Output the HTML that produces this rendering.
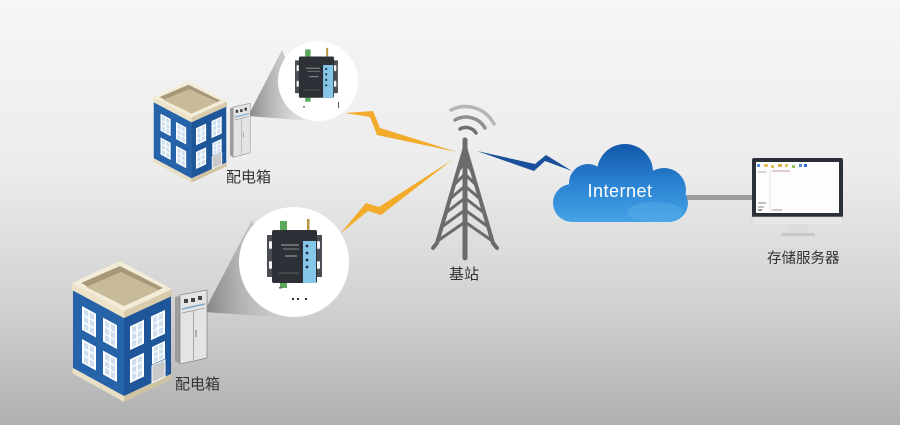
<!DOCTYPE html>
<html><head><meta charset="utf-8"><style>
html,body{margin:0;padding:0;width:900px;height:425px;overflow:hidden;background:#e8e8e8}
svg{display:block}
text{font-family:"Liberation Sans","Noto Sans CJK SC",sans-serif}
</style></head><body>
<svg width="900" height="425" viewBox="0 0 900 425" xmlns="http://www.w3.org/2000/svg">
<defs>
<linearGradient id="bg" x1="0" y1="0" x2="0" y2="1">
<stop offset="0" stop-color="#f6f6f6"/><stop offset="0.4" stop-color="#ececec"/>
<stop offset="0.7" stop-color="#d3d3d3"/><stop offset="1" stop-color="#b0b0b0"/>
</linearGradient>
<linearGradient id="cloud" gradientUnits="userSpaceOnUse" x1="0" y1="145" x2="0" y2="222">
<stop offset="0" stop-color="#1258aa"/><stop offset="0.5" stop-color="#2a82d2"/><stop offset="1" stop-color="#45a3e6"/>
</linearGradient>
<linearGradient id="cone" x1="0" y1="0" x2="1" y2="0">
<stop offset="0" stop-color="#7a7a7a" stop-opacity="0.9"/><stop offset="1" stop-color="#d0d0d0" stop-opacity="0.25"/>
</linearGradient>
<symbol id="win" viewBox="0 0 14 24" preserveAspectRatio="none">
<rect x="1" y="1" width="12" height="22" fill="#cddff0" stroke="#fff" stroke-width="2"/>
<line x1="7" y1="1" x2="7" y2="23" stroke="#fff" stroke-width="1.5"/>
<line x1="1" y1="8.5" x2="13" y2="8.5" stroke="#fff" stroke-width="1.5"/>
<line x1="1" y1="15.5" x2="13" y2="15.5" stroke="#fff" stroke-width="1.5"/>
</symbol>
<g id="bld">
<polygon points="1,7 52,35 52,113 1,85" fill="#2763a8"/>
<polygon points="52,35 99,13 99,91 52,113" fill="#1f5699"/>
<polygon points="1,85 52,113 52,119 0,90" fill="#e8dfc5"/>
<polygon points="52,113 99,91 100,96 52,119" fill="#cfc3a3"/>
<polygon points="0,0 52,28 52,35 0,7" fill="#ece3c9"/>
<polygon points="52,28 100,6 100,13 52,35" fill="#d8ccad"/>
<polygon points="0,0 52,28 100,6 48,-22" fill="#f3ecd8"/>
<polygon points="9,0 52,23 91,5 48,-17" fill="#a7987a"/>
<polygon points="14,4 52,23 87,7 49,-11" fill="#c8bb99"/>
<g transform="matrix(1,0.549,0,1,1,7)">
<use href="#win" x="9" y="11" width="14" height="24"/>
<use href="#win" x="30" y="11" width="14" height="24"/>
<use href="#win" x="9" y="44" width="14" height="24"/>
<use href="#win" x="30" y="44" width="14" height="24"/>
</g>
<g transform="matrix(1,-0.468,0,1,52,35)">
<use href="#win" x="6" y="11" width="14" height="24"/>
<use href="#win" x="27" y="11" width="14" height="24"/>
<use href="#win" x="6" y="44" width="14" height="24"/>
<use href="#win" x="28" y="42" width="13" height="18"/>
<rect x="28" y="61" width="13" height="17" fill="#c9c9c9" stroke="#fff" stroke-width="1"/>
</g>
</g>
<g id="cab">
<polygon points="175,297 180,295 180,364 175,361" fill="#9c9c9c"/>
<polygon points="175,297 202,291 207,290 180,295" fill="#cfcfcf"/>
<polygon points="180,295 207,290 207,358 180,364" fill="#e4e4e4" stroke="#8a8a8a" stroke-width="0.8"/>
<rect x="184" y="299" width="4" height="4" fill="#444"/>
<rect x="191" y="298" width="4" height="4" fill="#444"/>
<rect x="198" y="296" width="4" height="4" fill="#444"/>
<line x1="182" y1="309" x2="205" y2="304" stroke="#7fa9cf" stroke-width="1.6"/>
<line x1="182" y1="313" x2="205" y2="308" stroke="#999" stroke-width="0.8"/>
<line x1="193.5" y1="311" x2="193.5" y2="360" stroke="#999" stroke-width="0.8"/>
<line x1="196" y1="330" x2="196" y2="337" stroke="#777" stroke-width="1"/>
</g>
<g id="dev">
<rect x="0" y="12" width="7" height="42" fill="#4a4d53"/>
<rect x="48" y="12" width="7" height="42" fill="#4a4d53"/>
<rect x="2" y="18" width="3" height="8" rx="1.5" fill="#f4f4f4"/>
<rect x="2" y="38" width="3" height="8" rx="1.5" fill="#f4f4f4"/>
<rect x="50" y="18" width="3" height="8" rx="1.5" fill="#f4f4f4"/>
<rect x="50" y="38" width="3" height="8" rx="1.5" fill="#f4f4f4"/>
<rect x="13" y="-2" width="7" height="9" fill="#5aa85a"/>
<rect x="40" y="-4" width="2.5" height="11" fill="#b8953e"/>
<rect x="13" y="58" width="7" height="7" fill="#5aa85a"/>
<rect x="5" y="7" width="45" height="53" rx="2" fill="#2d3037"/>
<rect x="36" y="18" width="13" height="42" fill="#86c6e8"/>
<circle cx="40" cy="23" r="1.4" fill="#234"/><circle cx="40" cy="30" r="1.4" fill="#234"/>
<circle cx="40" cy="37" r="1.4" fill="#234"/><circle cx="40" cy="44" r="1.4" fill="#234"/>
<line x1="14" y1="22" x2="32" y2="22" stroke="#aaa" stroke-width="1"/>
<line x1="16" y1="26" x2="32" y2="26" stroke="#888" stroke-width="1"/>
<line x1="18" y1="33" x2="30" y2="33" stroke="#aaa" stroke-width="1"/>
<line x1="12" y1="50" x2="32" y2="50" stroke="#555" stroke-width="1.2"/>
</g>
</defs>

<rect width="900" height="425" fill="url(#bg)"/>

<!-- cones -->
<polygon points="248,116 282,50 312,121" fill="url(#cone)"/>
<polygon points="204,312 252,220 290,318" fill="url(#cone)"/>

<!-- circles -->
<circle cx="318" cy="81" r="40" fill="#fff"/>
<circle cx="294" cy="262" r="55" fill="#fff"/>
<use href="#dev" transform="translate(295,51) scale(0.78)"/>
<use href="#dev" transform="translate(267,223)"/>
<line x1="338.5" y1="102" x2="338.5" y2="108" stroke="#555" stroke-width="1"/>
<rect x="303" y="106" width="2" height="1.5" fill="#777"/>
<rect x="279" y="287" width="3" height="1.5" fill="#666"/>
<rect x="292" y="298" width="2" height="2" fill="#333"/><rect x="297" y="298" width="2" height="2" fill="#333"/><rect x="305" y="298" width="2" height="2" fill="#333"/>

<!-- buildings -->
<use href="#bld" transform="translate(153,97) scale(0.74,0.72)"/>
<use href="#bld" transform="translate(72,283)"/>
<use href="#cab" transform="matrix(0.63,0,0,0.73,119.75,-108.4)"/>
<use href="#cab"/>

<!-- lightning bolts -->
<polygon points="345,113 373,111 380,128 457,152 377,135 370,117" fill="#f3ab2b"/>
<polygon points="340,234 366,203 379,207 452,160 381,215 368,211" fill="#f3ab2b"/>
<polygon points="477,151 535,164 546,155 572,171 545,161 534,171" fill="#1a4f9c"/>

<!-- tower -->
<g stroke="#6b6b6b" fill="none" stroke-linecap="round">
<path d="M465,147 L437,243 L433,248" stroke-width="4"/>
<path d="M465,147 L493,243 L497,248" stroke-width="4"/>
<line x1="465" y1="140" x2="465" y2="258" stroke-width="5"/>
<path d="M459,170 L465,162 L471,170" stroke-width="3"/>
<path d="M455,184 L465,174 L475,184" stroke-width="3"/>
<path d="M451,198 L465,186 L479,198" stroke-width="3"/>
<path d="M447,212 L465,198 L483,212" stroke-width="3"/>
<path d="M443,226 L465,210 L487,226" stroke-width="3"/>
<path d="M439,240 L465,222 L491,240" stroke-width="3"/>
</g>
<g fill="none" stroke-linecap="round" stroke-width="3.5">
<path d="M460,129 A12,12 0 0 1 476,133" stroke="#6f6f6f"/>
<path d="M455,120 A22,22 0 0 1 485,128" stroke="#8f8f8f"/>
<path d="M451,110 A32,32 0 0 1 494,124" stroke="#b5b5b5"/>
</g>

<!-- cloud -->
<g fill="url(#cloud)">
<circle cx="588" cy="183" r="19"/>
<circle cx="625" cy="172" r="28"/>
<circle cx="664" cy="190" r="22"/>
<rect x="553" y="184" width="135" height="38" rx="19"/>
</g>
<ellipse cx="655" cy="212" rx="28" ry="10" fill="#5ab0ea" opacity="0.45"/>
<text x="620" y="197" font-size="18" fill="#fff" text-anchor="middle" letter-spacing="0.5">Internet</text>

<!-- connection -->
<rect x="687" y="195" width="65" height="5" fill="#9b9b9b"/>

<!-- monitor -->
<rect x="752" y="158" width="91" height="60" rx="2" fill="#2a2f38"/>
<rect x="756" y="162" width="83" height="51" fill="#fdfdfd"/>
<rect x="752" y="217" width="91" height="8" fill="#e6e6e6" stroke="#cfcfcf" stroke-width="0.6"/>
<polygon points="790,225 806,225 808,233 788,233" fill="#dcdcdc"/>
<rect x="781" y="233" width="34" height="3" fill="#c8c8c8"/>
<g>
<rect x="757" y="164" width="3" height="3" fill="#5b8ed8"/>
<rect x="764" y="164" width="4" height="3" fill="#e2c25a"/>
<rect x="771" y="165" width="3" height="3" fill="#e2c25a"/>
<rect x="778" y="164" width="4" height="3" fill="#d9b14a"/>
<rect x="785" y="164" width="3" height="3" fill="#e2c25a"/>
<rect x="792" y="165" width="3" height="3" fill="#9cc55a"/>
<rect x="799" y="164" width="3" height="3" fill="#5b8ed8"/>
<rect x="804" y="164" width="3" height="3" fill="#2a6fd0"/>
<line x1="770" y1="170" x2="770" y2="212" stroke="#ddd" stroke-width="0.8"/>
<line x1="758" y1="172" x2="766" y2="172" stroke="#aaa" stroke-width="1"/>
<line x1="772" y1="171" x2="790" y2="171" stroke="#c99" stroke-width="1"/>
<line x1="758" y1="203" x2="766" y2="203" stroke="#888" stroke-width="1"/>
<line x1="758" y1="207" x2="764" y2="207" stroke="#888" stroke-width="1"/>
<line x1="758" y1="210" x2="762" y2="210" stroke="#555" stroke-width="1.2"/>
<line x1="772" y1="210" x2="782" y2="210" stroke="#999" stroke-width="1"/>
</g>

<!-- labels -->
<text x="226" y="182" font-size="15" fill="#333">配电箱</text>
<text x="175" y="389" font-size="15" fill="#333">配电箱</text>
<text x="449" y="279" font-size="15" fill="#333">基站</text>
<text x="767" y="263" font-size="14.5" fill="#333">存储服务器</text>
</svg>
</body></html>
